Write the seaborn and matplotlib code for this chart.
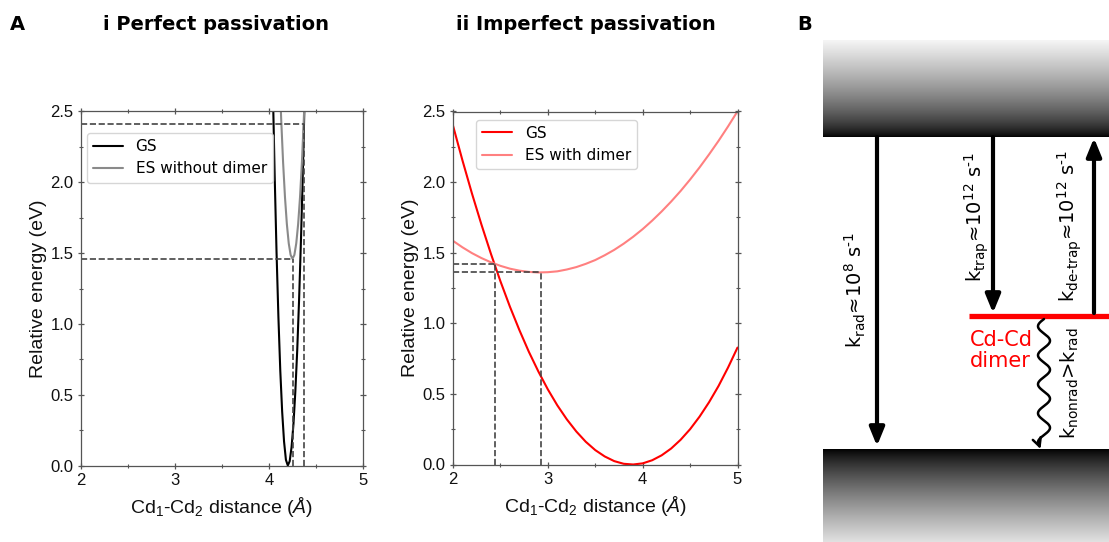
import numpy as np
import pandas as pd
import matplotlib
matplotlib.use("Agg")
import matplotlib.pyplot as plt
import seaborn as sns

# ---------------- data ----------------
# Panel i: perfect passivation
gs1_x = [4.04, 4.06, 4.08, 4.10, 4.12, 4.14, 4.16, 4.18, 4.20, 4.22, 4.24,
         4.26, 4.28, 4.30, 4.32, 4.34, 4.36, 4.38]
gs1_y = [2.69, 2.06, 1.51, 1.05, 0.67, 0.38, 0.17, 0.04, 0.00, 0.03, 0.13,
         0.29, 0.52, 0.81, 1.17, 1.59, 2.07, 2.62]
es1_x = [4.11, 4.13, 4.15, 4.17, 4.19, 4.21, 4.23, 4.25, 4.27, 4.29, 4.31,
         4.33, 4.35, 4.37, 4.39]
es1_y = [2.79, 2.44, 2.14, 1.895, 1.705, 1.569, 1.487, 1.46, 1.487, 1.569,
         1.705, 1.895, 2.14, 2.44, 2.79]
# dashed guide points (x, y) panel i
guide1_x = [4.25, 4.37]
guide1_y = [1.46, 2.41]

# Panel ii: imperfect passivation
x2 = [2.0, 2.1, 2.2, 2.3, 2.4, 2.5, 2.6, 2.7, 2.8, 2.9, 3.0, 3.1, 3.2, 3.3,
      3.4, 3.5, 3.6, 3.7, 3.8, 3.9, 4.0, 4.1, 4.2, 4.3, 4.4, 4.5, 4.6, 4.7,
      4.8, 4.9, 5.0]
gs2_y = [2.400, 2.153, 1.919, 1.699, 1.492, 1.298, 1.118, 0.952, 0.798,
         0.659, 0.532, 0.419, 0.320, 0.234, 0.161, 0.102, 0.057, 0.024,
         0.005, 0.000, 0.008, 0.030, 0.065, 0.113, 0.175, 0.250, 0.339,
         0.441, 0.556, 0.686, 0.828]
es2_y = [1.584, 1.538, 1.497, 1.462, 1.432, 1.407, 1.387, 1.373, 1.364,
         1.360, 1.362, 1.368, 1.381, 1.398, 1.421, 1.448, 1.482, 1.520,
         1.564, 1.613, 1.667, 1.727, 1.792, 1.862, 1.937, 2.018, 2.104,
         2.196, 2.292, 2.394, 2.501]
guide2_x = [2.44, 2.93]
guide2_y = [1.42, 1.36]

xticks = [2, 3, 4, 5]
yticks = [0.0, 0.5, 1.0, 1.5, 2.0, 2.5]

# ---------------- style ----------------
sns.set_style("ticks")
plt.rcParams["font.family"] = ["Liberation Sans", "DejaVu Sans"]
plt.rcParams["mathtext.fontset"] = "custom"
plt.rcParams["mathtext.rm"] = "Liberation Sans"
plt.rcParams["mathtext.it"] = "Liberation Sans:italic"
plt.rcParams["mathtext.bf"] = "Liberation Sans:bold"
plt.rcParams["text.color"] = "black"
plt.rcParams["axes.labelcolor"] = "black"

W, H = 1109, 542
fig = plt.figure(figsize=(W / 100, H / 100), dpi=100)

spine_c = "#555555"
dash_c = "#444444"


def px_axes(l, t, r, b):
    return fig.add_axes([l / W, 1 - b / H, (r - l) / W, (b - t) / H])


def style_axes(ax):
    ax.set_xlim(2, 5)
    ax.set_ylim(0, 2.5)
    ax.set_xticks(xticks)
    ax.set_yticks(yticks)
    ax.set_xticklabels([str(v) for v in xticks])
    ax.set_yticklabels([f"{v:.1f}" for v in yticks])
    ax.xaxis.set_minor_locator(matplotlib.ticker.MultipleLocator(0.5))
    ax.yaxis.set_minor_locator(matplotlib.ticker.MultipleLocator(0.25))
    ax.tick_params(which="both", direction="inout", top=True, right=True,
                   colors=spine_c, labelcolor="#111111")
    ax.tick_params(which="major", length=5, width=0.9, labelsize=12, pad=3)
    ax.tick_params(which="minor", length=3, width=0.8)
    for s in ax.spines.values():
        s.set_color(spine_c)
        s.set_linewidth(0.9)
    ax.set_xlabel("Cd$_1$-Cd$_2$ distance ($Å$)", fontsize=14, labelpad=5,
                  color="#111111")
    ax.set_ylabel("Relative energy (eV)", fontsize=14, labelpad=2,
                  color="#111111")


# ---------------- panel i ----------------
ax1 = px_axes(81, 111.5, 363, 465.5)
df_gs1 = pd.DataFrame({"x": gs1_x, "y": gs1_y})
df_es1 = pd.DataFrame({"x": es1_x, "y": es1_y})
sns.lineplot(data=df_gs1, x="x", y="y", color="black", lw=1.5, label="GS",
             ax=ax1, sort=False)
sns.lineplot(data=df_es1, x="x", y="y", color="#8a8a8a", lw=1.5,
             label="ES without dimer", ax=ax1, sort=False)
for gx, gy in zip(guide1_x, guide1_y):
    ax1.plot([2, gx], [gy, gy], ls="--", color=dash_c, lw=1.2)
    ax1.plot([gx, gx], [0, gy], ls="--", color=dash_c, lw=1.2)
style_axes(ax1)
ax1.legend(loc="upper left", bbox_to_anchor=(0.02, 0.94), borderaxespad=0,
           prop={"family": "DejaVu Sans", "size": 11}, framealpha=0.8)

# ---------------- panel ii ----------------
ax2 = px_axes(453, 111.5, 737.5, 464.5)
df2 = pd.DataFrame({"x": x2, "GS": gs2_y, "ES": es2_y})
sns.lineplot(data=df2, x="x", y="GS", color="#ff0000", lw=1.5, label="GS",
             ax=ax2)
sns.lineplot(data=df2, x="x", y="ES", color="#ff8080", lw=1.5,
             label="ES with dimer", ax=ax2)
for gx, gy in zip(guide2_x, guide2_y):
    ax2.plot([2, gx], [gy, gy], ls="--", color=dash_c, lw=1.2)
    ax2.plot([gx, gx], [0, gy], ls="--", color=dash_c, lw=1.2)
style_axes(ax2)
ax2.legend(loc="upper left", bbox_to_anchor=(0.08, 0.977), borderaxespad=0,
           prop={"family": "DejaVu Sans", "size": 11}, framealpha=0.8)

# ---------------- titles ----------------
tkw = dict(fontsize=14, fontweight="bold", family="DejaVu Sans", va="center",
           color="black")
fig.text(10 / W, 1 - 25 / H, "A", ha="left", **tkw)
fig.text(216 / W, 1 - 25 / H, "i Perfect passivation", ha="center", **tkw)
fig.text(586 / W, 1 - 25 / H, "ii Imperfect passivation", ha="center", **tkw)
fig.text(797 / W, 1 - 25 / H, "B", ha="left", **tkw)

# ---------------- panel B (schematic) ----------------
axb = fig.add_axes([823 / W, 0, 1 - 823 / W, 1])
axb.set_xlim(823, 1109)
axb.set_ylim(542, 0)
axb.axis("off")

cb_top, cb_edge = 40, 137
vb_edge, vb_bot = 449, 542
trap_y = 316

t = np.linspace(0, 1, 256)[:, None]
top_grad = 0.96 * (1 - t) ** 0.7
axb.imshow(np.repeat(top_grad, 4, axis=1), cmap="gray", vmin=0, vmax=1,
           extent=[823, 1109, cb_edge, cb_top], aspect="auto",
           interpolation="bilinear")
bot_grad = 0.88 * t ** 0.8
axb.imshow(np.repeat(bot_grad, 4, axis=1), cmap="gray", vmin=0, vmax=1,
           extent=[823, 1109, vb_bot, vb_edge], aspect="auto",
           interpolation="bilinear")

axb.plot([969, 1109], [trap_y, trap_y], color="#ff0000", lw=3.8,
         solid_capstyle="butt")

ap = dict(arrowstyle="-|>,head_width=0.45,head_length=1.1", lw=3,
          color="black", shrinkA=0, shrinkB=0)
axb.annotate("", xy=(877, 446), xytext=(877, cb_edge), arrowprops=ap)
axb.annotate("", xy=(993, 313), xytext=(993, cb_edge), arrowprops=ap)
axb.annotate("", xy=(1094, cb_edge + 1), xytext=(1094, trap_y - 3),
             arrowprops=ap)

# wavy non-radiative decay
wy = np.linspace(319, 442, 300)
wx = 1044 - 6 * np.sin(2 * np.pi * (wy - 319) / 29)
axb.plot(wx, wy, color="black", lw=1.8)
axb.annotate("", xy=(1040.5, 449), xytext=(wx[-1], wy[-1]),
             arrowprops=dict(arrowstyle="->,head_width=0.3,head_length=0.6",
                             lw=1.8, color="black", shrinkA=0, shrinkB=0))

bkw = dict(rotation=90, ha="center", va="center", fontsize=14,
           family="DejaVu Sans", math_fontfamily="dejavusans", color="black")
axb.text(855, 290, r"k$_{\mathrm{rad}}$≈10$^{8}$ s$^{\text{-}1}$", **bkw)
axb.text(977, 217, r"k$_{\mathrm{trap}}$≈10$^{12}$ s$^{\text{-}1}$", **bkw)
axb.text(1070, 226,
         r"k$_{\mathrm{de}\text{-}\mathrm{trap}}$≈10$^{12}$ s$^{\text{-}1}$",
         **bkw)
axb.text(1070, 383, r"k$_{\mathrm{nonrad}}$>k$_{\mathrm{rad}}$", **bkw)
axb.text(970, 330, "Cd-Cd\ndimer", color="#ff0000", fontsize=15,
         family="DejaVu Sans", ha="left", va="top", linespacing=1.05)

fig.savefig("out.png", dpi=100)
